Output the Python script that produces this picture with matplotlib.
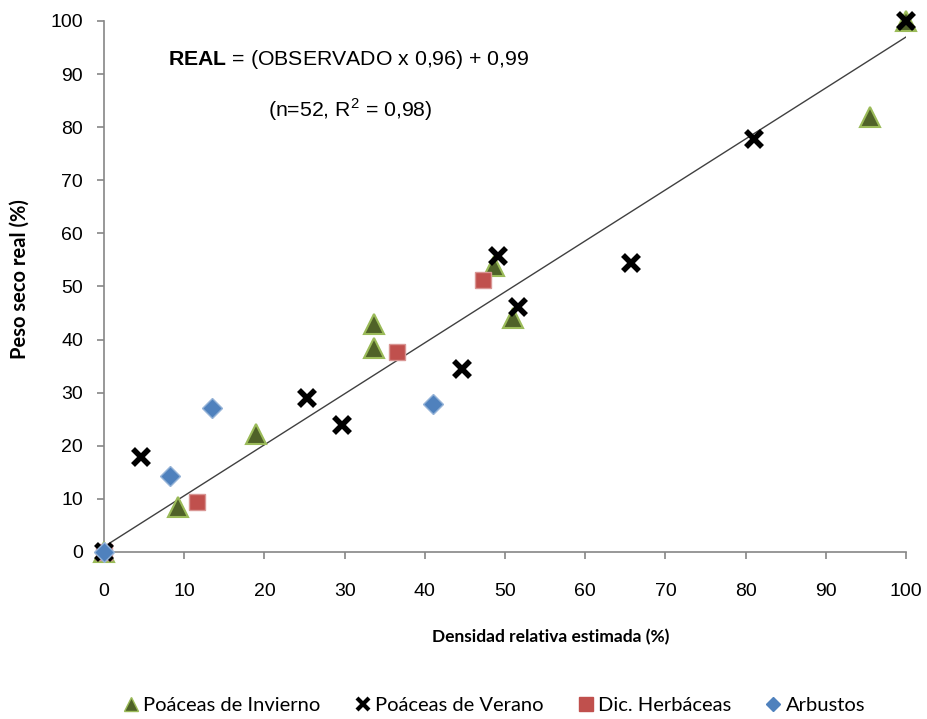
import matplotlib
matplotlib.use("Agg")
import matplotlib.pyplot as plt
from matplotlib.lines import Line2D
import numpy as np

plt.rcParams['font.family'] = ['Liberation Sans', 'DejaVu Sans']
plt.rcParams['mathtext.fontset'] = 'custom'
plt.rcParams['mathtext.rm'] = 'Liberation Sans'
plt.rcParams['mathtext.bf'] = 'Liberation Sans:bold'

# Data
inv_x = [0, 9.2, 19.0, 33.7, 33.7, 48.6, 51.0, 95.5, 100]
inv_y = [0, 8.5, 22.2, 42.9, 38.4, 53.9, 44.1, 81.9, 100]

ver_x = [0, 4.6, 25.3, 29.7, 44.6, 49.1, 51.6, 65.7, 81.0, 100]
ver_y = [0, 17.9, 29.0, 23.9, 34.5, 55.7, 46.1, 54.4, 77.8, 100]

her_x = [0, 11.6, 36.5, 47.3]
her_y = [0, 9.4, 37.7, 51.2]

arb_x = [0, 8.2, 13.5, 41.0]
arb_y = [0, 14.3, 27.1, 27.9]

slope, intercept = 0.96, 0.99
labels = ['Poáceas de Invierno', 'Poáceas de Verano', 'Dic. Herbáceas', 'Arbustos']

fig = plt.figure(figsize=(9.27, 7.19), dpi=100)
ax = fig.add_axes([0.1122, 0.2323, 0.8652, 0.7385])

ax.set_xlim(0, 100)
ax.set_ylim(0, 100)
ax.set_xticks(range(0, 101, 10))
ax.set_yticks(range(0, 101, 10))
for s in ['top', 'right']:
    ax.spines[s].set_visible(False)
for s in ['left', 'bottom']:
    ax.spines[s].set_color('#868686')
    ax.spines[s].set_linewidth(1.2)
ax.tick_params(axis='both', direction='out', length=5, color='#868686', width=1.2,
               labelsize=14)
ax.tick_params(axis='x', pad=17)
ax.tick_params(axis='y', pad=10)

# regression line
lx = np.array([0, 100])
ax.plot(lx, slope * lx + intercept, color='#404040', lw=1.0, zorder=2)

ax.plot(inv_x, inv_y, linestyle='none', marker='^', markersize=15,
        markerfacecolor='#4F6228', markeredgecolor='#9BBB59', markeredgewidth=1.5,
        clip_on=False, zorder=3)
ax.plot(ver_x, ver_y, linestyle='none', marker='x', markersize=12,
        markeredgecolor='black', markeredgewidth=4, clip_on=False, zorder=4)
ax.plot(her_x, her_y, linestyle='none', marker='s', markersize=11,
        markerfacecolor='#C0504D', markeredgecolor='#D99694', markeredgewidth=1,
        clip_on=False, zorder=3)
ax.plot(arb_x, arb_y, linestyle='none', marker='D', markersize=10,
        markerfacecolor='#4F81BD', markeredgecolor='#95B3D7', markeredgewidth=1,
        clip_on=False, zorder=5)

# axis labels
fig.text(551 / 927, 1 - 637 / 719, 'Densidad relativa estimada (%)', fontsize=12.5,
         fontweight='bold', family='Lato', ha='center', va='center')
fig.text(20 / 927, 1 - 279 / 719, 'Peso seco real (%)', fontsize=14.5,
         fontweight='bold', family='Lato', ha='center', va='center', rotation=90)

# equation text
ax.text(8.0, 92.7, r'$\mathbf{REAL}$ = (OBSERVADO x 0,96) + 0,99', fontsize=15.3,
        ha='left', va='center')
ax.text(20.4, 83.2, r'(n=52, R$^{2}$ = 0,98)', fontsize=15.3,
        ha='left', va='center')

# legend
handles = [
    Line2D([], [], linestyle='none', marker='^', markersize=10,
           markerfacecolor='#4F6228', markeredgecolor='#9BBB59'),
    Line2D([], [], linestyle='none', marker='x', markersize=9,
           markeredgecolor='black', markeredgewidth=3),
    Line2D([], [], linestyle='none', marker='s', markersize=10,
           markerfacecolor='#C0504D', markeredgecolor='#C0504D'),
    Line2D([], [], linestyle='none', marker='D', markersize=7,
           markerfacecolor='#4F81BD', markeredgecolor='#4F81BD'),
]
fig.legend(handles, labels, loc='center', bbox_to_anchor=(0.532, 1 - 705 / 719), ncol=4,
           frameon=False, prop={'family': 'Lato', 'size': 14.5},
           handletextpad=0.1, columnspacing=1.6, handlelength=1.0)

fig.savefig('out.png', dpi=100)
